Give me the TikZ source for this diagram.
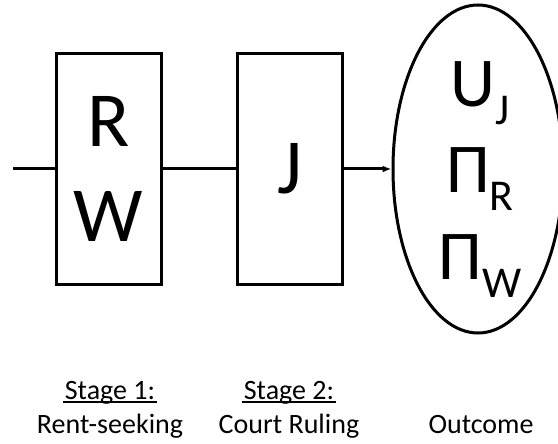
\documentclass[tikz,border=0pt]{standalone}
\usepackage{fontspec}
\setmainfont{Carlito}
\usetikzlibrary{shapes.geometric,arrows.meta}
\newcommand{\lowsub}[1]{\raisebox{-18pt}{\fontsize{44}{44}\selectfont #1}}
\begin{document}
\begin{tikzpicture}[x=1pt,y=-1pt,line width=3pt,
	stagebox/.style={draw,minimum width=105pt,minimum height=230pt,inner sep=0pt,align=center,font=\fontsize{78}{95}\selectfont},
	outcome/.style={draw,ellipse,minimum width=170pt,minimum height=328pt,inner sep=0pt},
	outvar/.style={anchor=base,inner sep=0pt,font=\fontsize{70}{70}\selectfont},
	caption/.style={anchor=base,inner sep=0pt,font=\fontsize{28}{28}\selectfont},
	uline/.style={line width=1.5pt}]
		\useasboundingbox (0,0) rectangle (558,444);
		%Stages
			\node[stagebox] (rent) at (108.5,169) {R\\W};
			\node[stagebox] (court) at (290,169) {J};
		%Outcome
			\node[outcome] (out) at (478,169) {};
			\node[outvar] (uj) at (480,107) {U\lowsub{J}};
			\node[outvar] (pir) at (480,193) {Π\lowsub{R}};
			\node[outvar] (piw) at (480,279) {Π\lowsub{W}};
		%Connectors
			\coordinate (start) at (13,169);
			\draw (start) -- (rent);
			\draw (rent) -- (court);
			\draw[-{Latex[length=9pt,width=7pt]}] (court) -- (out);
		%Captions
			\node[caption] (st1) at (110,399) {Stage 1:};
			\node[caption] (rs) at (110,433) {Rent-seeking};
			\node[caption] (st2) at (289,399) {Stage 2:};
			\node[caption] (cr) at (289,433) {Court Ruling};
			\node[caption] (oc) at (481,433) {Outcome};
			\draw[uline] ([yshift=-3pt]st1.base west) -- ([yshift=-3pt]st1.base east);
			\draw[uline] ([yshift=-3pt]st2.base west) -- ([yshift=-3pt]st2.base east);
\end{tikzpicture}
\end{document}
